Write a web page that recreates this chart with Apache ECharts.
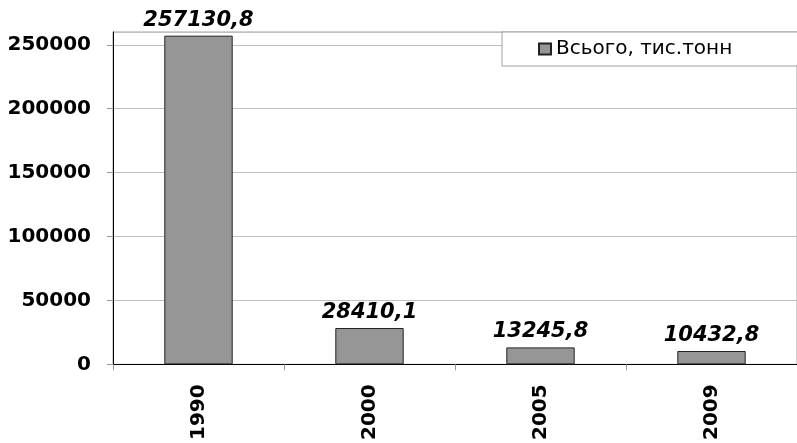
<!DOCTYPE html>
<html>
<head>
<meta charset="utf-8">
<script src="https://cdn.jsdelivr.net/npm/echarts@6/dist/echarts.min.js"></script>
<style>
  html, body { margin: 0; padding: 0; background: #fff; }
  #chart { width: 797px; height: 443px; }
</style>
</head>
<body>
<div id="chart"></div>
<script>
var years = ['1990', '2000', '2005', '2009'];
var totals = [257130.8, 28410.1, 13245.8, 10432.8];
var seriesName = 'Всього, тис.тонн';

var chart = echarts.init(document.getElementById('chart'));

var font = 'DejaVu Sans';

var option = {
    backgroundColor: '#fff',
    animation: false,
    grid: {
        left: 113,
        top: 32,
        width: 688,
        height: 334,
        show: true,
        borderColor: '#a0a0a0',
        borderWidth: 1
    },
    legend: {
        data: [seriesName],
        left: 502,
        top: 32,
        padding: [7, 80, 7, 36],
        borderColor: '#a0a0a0',
        borderWidth: 1,
        backgroundColor: '#fff',
        itemWidth: 12,
        itemHeight: 11,
        icon: 'rect',
        textStyle: {fontFamily: font, fontSize: 20, color: '#000'}
    },
    xAxis: {
        type: 'category',
        data: years,
        axisLine: {lineStyle: {color: '#000', width: 1}},
        axisTick: {show: true, length: 6, lineStyle: {color: '#999'}},
        axisLabel: {
            rotate: 90,
            margin: 20,
            fontFamily: font,
            fontWeight: 'bold',
            fontSize: 20,
            color: '#000'
        }
    },
    yAxis: {
        type: 'value',
        min: 0,
        max: 260000,
        interval: 50000,
        axisLine: {show: true, lineStyle: {color: '#000', width: 1}},
        axisTick: {show: true, length: 6, lineStyle: {color: '#999'}},
        axisLabel: {
            showMaxLabel: false,
            margin: 22,
            fontFamily: font,
            fontWeight: 'bold',
            fontSize: 20,
            color: '#000',
            formatter: function (v) { return String(v); }
        },
        splitLine: {lineStyle: {color: '#c0c0c0'}}
    },
    series: [
        {
            name: seriesName,
            type: 'bar',
            data: totals,
            barWidth: '40%',
            itemStyle: {color: '#969696', borderColor: '#222', borderWidth: 1},
            label: {
                show: true,
                position: 'top',
                distance: 5,
                fontFamily: font,
                fontWeight: 'bold',
                fontStyle: 'italic',
                fontSize: 21,
                color: '#000',
                formatter: function (p) {
                    return String(p.value).replace('.', ',');
                }
            }
        }
    ]
};

chart.setOption(option);
</script>
</body>
</html>
